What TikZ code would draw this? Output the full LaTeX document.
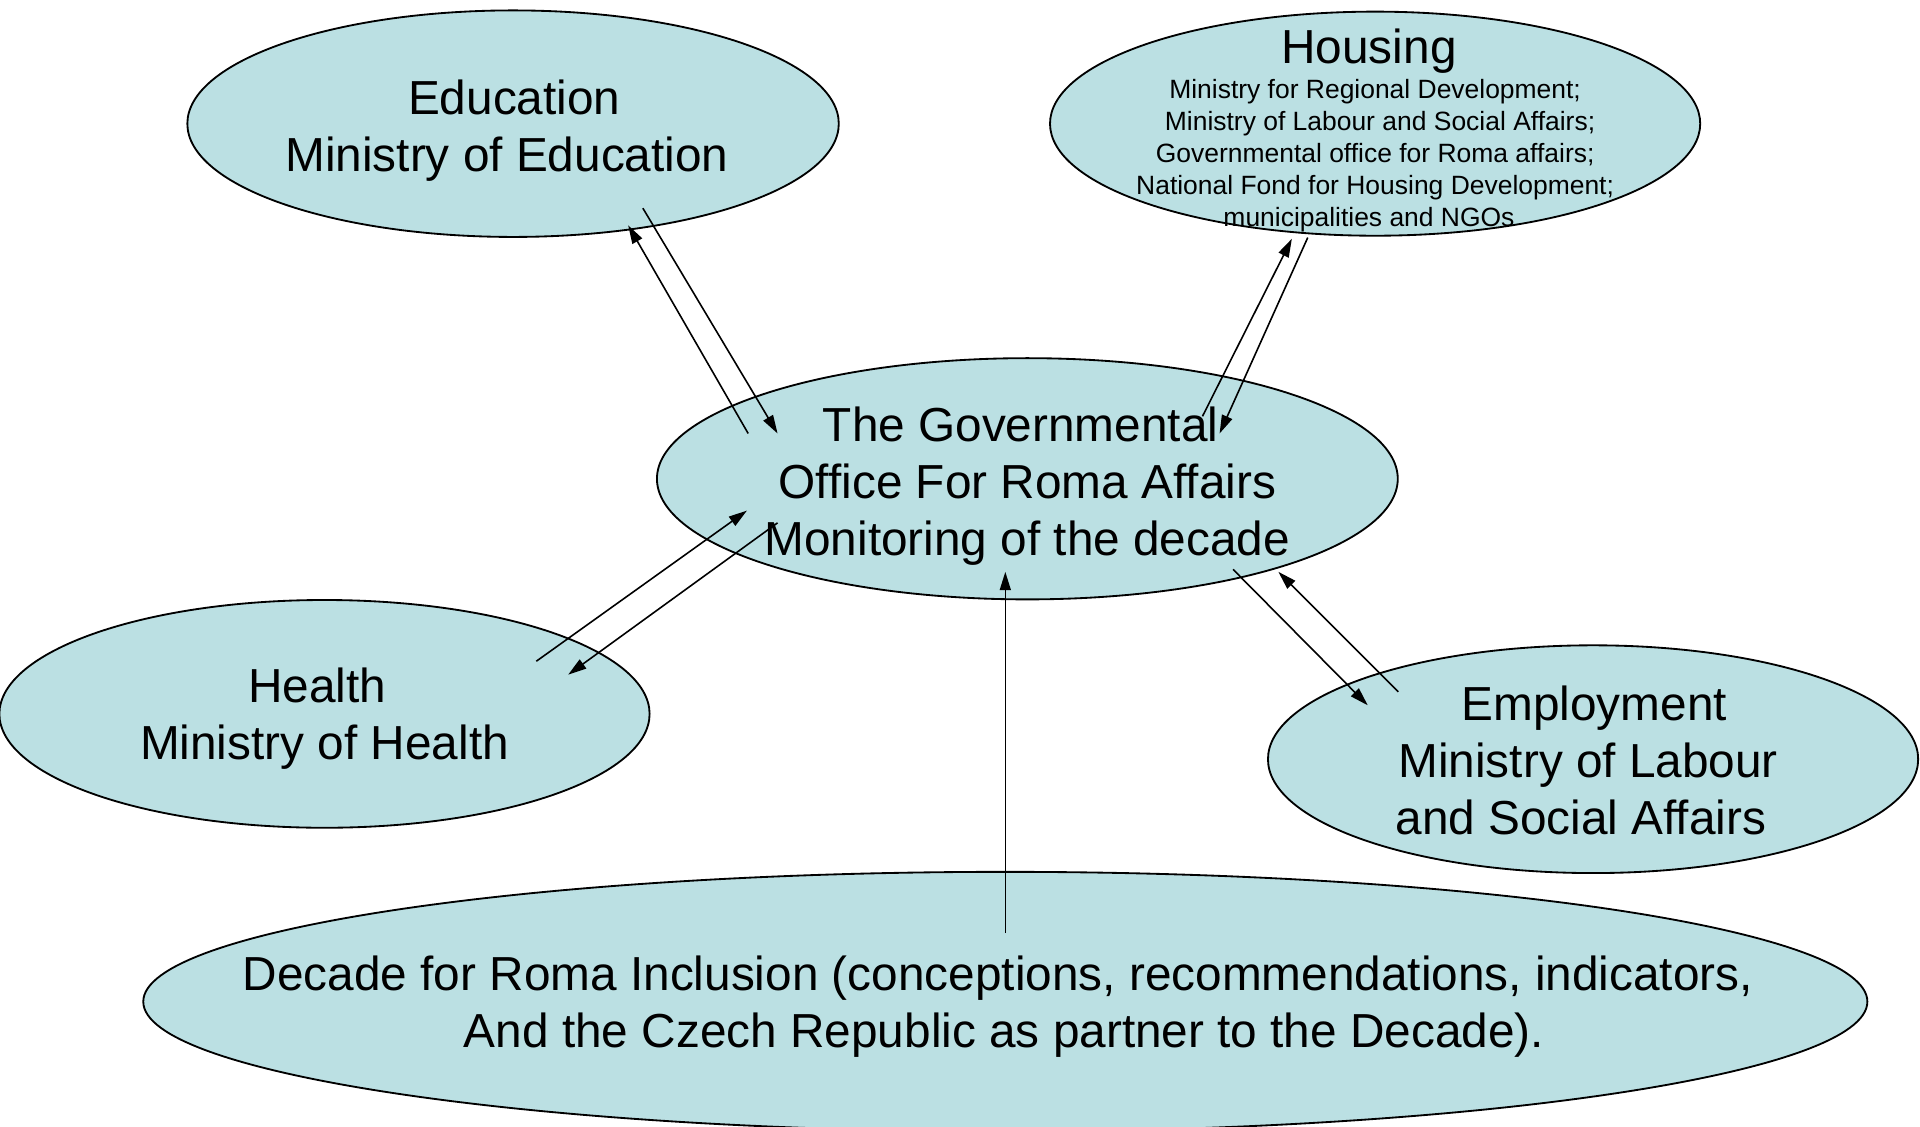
\documentclass[tikz,border=0pt]{standalone}
\usepackage{fontspec}
\setmainfont{Liberation Sans}
\usetikzlibrary{arrows.meta,shapes.geometric}
\definecolor{ellfill}{HTML}{BBE0E3}
\begin{document}
\begin{tikzpicture}[x=1pt,y=-1pt,
  oval/.style={ellipse,draw=black,line width=1.5pt,fill=ellfill,inner sep=0pt},
  big/.style={font=\fontsize{39}{46.5}\selectfont,align=center,inner sep=0pt},
  small/.style={font=\fontsize{21.6}{26}\selectfont,align=center,inner sep=0pt},
  link/.style={line width=1.3pt,-{Triangle[length=15pt,width=9pt]}}]
\useasboundingbox (0,0) rectangle (1568,920);
% ellipses
\node[oval,minimum width=532pt,minimum height=185pt] (edu) at (419,101) {};
\node[oval,minimum width=531pt,minimum height=183pt] (hous) at (1123,101) {};
\node[oval,minimum width=605pt,minimum height=197pt] (gov) at (839,391) {};
\node[oval,minimum width=531pt,minimum height=186pt] (health) at (265,583) {};
\node[oval,minimum width=531pt,minimum height=186pt] (emp) at (1301,620) {};
\node[oval,minimum width=1408pt,minimum height=212pt] (dec) at (821,818) {};
% texts
\node[big] (eduT) at (416,107) {\hspace*{8pt}Education\\Ministry of Education\hspace*{4pt}};
\node[big] (housT) at (1118,42) {Housing};
\node[small] (housS) at (1123,127) {Ministry for Regional Development;\\\hspace*{8pt}Ministry of Labour and Social Affairs;\\Governmental office for Roma affairs;\\National Fond for Housing Development;\hspace*{5pt}\\municipalities and NGOs\hspace*{10pt}};
\node[big] (govT) at (839,397) {The Governmental\hspace*{11pt}\\Office For Roma Affairs\\Monitoring of the decade};
\node[big] (healthT) at (265,587) {Health\hspace*{12pt}\\Ministry of Health};
\node[big] (empT) at (1297,621) {\hspace*{10pt}Employment\\Ministry of Labour\\and Social Affairs\hspace*{12pt}};
\node[big] (decT) at (817,822) {Decade for Roma Inclusion (conceptions, recommendations, indicators,\hspace*{4pt}\\\hspace*{6pt}And the Czech Republic as partner to the Decade).};
% connector end points
\coordinate (govEduOut) at (611,354); \coordinate (eduIn) at (513,184);
\coordinate (eduOut) at (525,170); \coordinate (govEduIn) at (635,354);
\coordinate (govHousOut) at (982,340); \coordinate (housIn) at (1055,195);
\coordinate (housOut) at (1068,194); \coordinate (govHousIn) at (996,354);
\coordinate (healthOut) at (438,540); \coordinate (govHealthIn) at (610,417);
\coordinate (govHealthOut) at (635,427); \coordinate (healthIn) at (464,551);
\coordinate (decOut) at (821,762); \coordinate (govDecIn) at (821,467);
\coordinate (govEmpOut) at (1007,465); \coordinate (empIn) at (1117,576);
\coordinate (empOut) at (1142,565); \coordinate (govEmpIn) at (1044,467);
% connectors
\draw[link] (govEduOut) -- (eduIn);
\draw[link] (eduOut) -- (govEduIn);
\draw[link] (govHousOut) -- (housIn);
\draw[link] (housOut) -- (govHousIn);
\draw[link] (healthOut) -- (govHealthIn);
\draw[link] (govHealthOut) -- (healthIn);
\draw[link] (decOut) -- (govDecIn);
\draw[link] (govEmpOut) -- (empIn);
\draw[link] (empOut) -- (govEmpIn);
\end{tikzpicture}
\end{document}
